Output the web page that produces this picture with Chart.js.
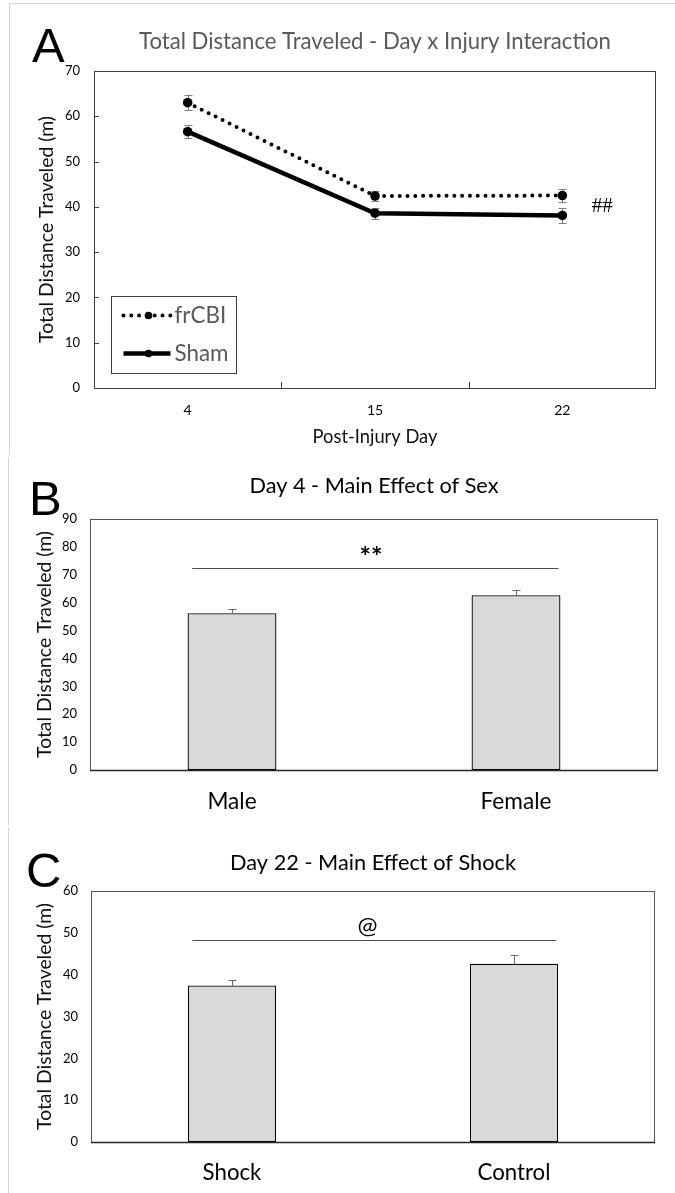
<!DOCTYPE html>
<html><head><meta charset="utf-8">
<script src="https://cdn.jsdelivr.net/npm/chart.js@4.4.1/dist/chart.umd.min.js"></script>
<style>
html,body{margin:0;padding:0;background:#fff;}
body{width:675px;height:1193px;position:relative;overflow:hidden;}
canvas{position:absolute;left:0;}
.letter{position:absolute;font-family:"Liberation Sans",Arial,sans-serif;font-size:49px;line-height:49px;color:#000;}
.rule{position:absolute;background:#d4d4d4;}
</style></head><body>
<div class="rule" style="left:9px;top:3px;width:666px;height:1px"></div>
<div class="rule" style="left:9px;top:3px;width:1px;height:452px"></div>
<div class="rule" style="left:8px;top:457px;width:1px;height:368px"></div>
<div class="rule" style="left:8px;top:828px;width:1px;height:365px"></div>
<canvas id="cA" width="675" height="455" style="top:0"></canvas>
<canvas id="cB" width="675" height="370" style="top:455px"></canvas>
<canvas id="cC" width="675" height="368" style="top:825px"></canvas>
<div class="letter" style="left:32px;top:21px">A</div>
<div class="letter" style="left:29px;top:474px">B</div>
<div class="letter" style="left:26px;top:846px">C</div>
<script>
// ---------- data ----------
// Panel A: Day x Injury interaction
const injuryDays = ['4', '15', '22'];
const frCBIMeans = [63.0, 42.4, 42.5];
const frCBISem = [1.6, 1.1, 1.5];
const shamMeans = [56.6, 38.6, 38.1];
const shamSem = [1.4, 1.25, 1.6];
const interactionMark = '##';
// Panel B: Day 4, main effect of sex
const sexGroups = ['Male', 'Female'];
const sexMeans = [56.2, 62.7];
const sexSem = [1.4, 1.7];
const sexSigLevel = 72.4;
const sexSigMark = '**';
// Panel C: Day 22, main effect of shock
const shockGroups = ['Shock', 'Control'];
const shockMeans = [37.4, 42.6];
const shockSem = [1.3, 2.0];
const shockSigLevel = 48.2;
const shockSigMark = '@';
// axis ranges
const yMaxA = 70, yMaxB = 90, yMaxC = 60, yStep = 10;

// ---------- helpers ----------
const FONT = 'Lato, "Open Sans", sans-serif';
Chart.defaults.font.family = FONT;
const mctx = document.createElement('canvas').getContext('2d');
function fit(text, target, weight = 'normal', family = FONT) {
  mctx.font = weight + ' 100px ' + family;
  return 100 * target / mctx.measureText(text).width;
}
const LH = s => s * 1.2;

function drawInkCentered(ctx, text, cx, cy) {
  const m = ctx.measureText(text);
  ctx.textAlign = 'center';
  ctx.textBaseline = 'alphabetic';
  ctx.fillText(text, cx, cy + (m.actualBoundingBoxAscent - m.actualBoundingBoxDescent) / 2);
}

// ---------- plugins ----------
const framePlugin = {
  id: 'frame',
  afterDraw(chart, args, o) {
    const {ctx, chartArea: a} = chart;
    const L = Math.round(a.left), T = Math.round(a.top), R = Math.round(a.right), B = Math.round(a.bottom);
    ctx.save();
    ctx.strokeStyle = o.color; ctx.lineWidth = 1;
    ctx.strokeRect(L + 0.5, T + 0.5, R - L - 1, B - T);
    if (o.bottomColor) {
      ctx.strokeStyle = o.bottomColor; ctx.lineWidth = o.bottomWidth;
      ctx.beginPath(); ctx.moveTo(L, B + 0.5); ctx.lineTo(R, B + 0.5); ctx.stroke();
    }
    ctx.restore();
  }
};

const innerTicks = {
  id: 'innerTicks',
  afterDraw(chart, args, o) {
    if (!o.enabled) return;
    const {ctx, chartArea: a, scales: {x, y}} = chart;
    ctx.save(); ctx.strokeStyle = o.color; ctx.lineWidth = 1;
    ctx.beginPath();
    y.ticks.forEach(t => {
      if (t.value > y.min && t.value < y.max) {
        const py = Math.round(y.getPixelForValue(t.value)) + 0.5;
        ctx.moveTo(a.left, py); ctx.lineTo(a.left + o.yLen, py);
      }
    });
    for (let i = 0; i < x.ticks.length - 1; i++) {
      const px = Math.round((x.getPixelForValue(i) + x.getPixelForValue(i + 1)) / 2) + 0.5;
      ctx.moveTo(px, a.bottom); ctx.lineTo(px, a.bottom - o.xLen);
    }
    ctx.stroke(); ctx.restore();
  }
};

function drawErr(chart, o) {
  const {ctx, scales: {y}} = chart;
  ctx.save(); ctx.strokeStyle = o.color; ctx.lineWidth = 1;
  chart.data.datasets.forEach((ds, di) => {
    if (!ds.errors) return;
    const meta = chart.getDatasetMeta(di);
    meta.data.forEach((el, i) => {
      const v = ds.data[i], e = ds.errors[i];
      const x = Math.round(el.x) + 0.5;
      const top = Math.round(y.getPixelForValue(v + e)) + 0.5;
      const bot = Math.round(y.getPixelForValue(o.both ? v - e : v)) + 0.5;
      ctx.beginPath();
      ctx.moveTo(x, top); ctx.lineTo(x, bot);
      ctx.moveTo(x - o.cap, top); ctx.lineTo(x + o.cap, top);
      if (o.both) { ctx.moveTo(x - o.cap, bot); ctx.lineTo(x + o.cap, bot); }
      ctx.stroke();
    });
  });
  ctx.restore();
}
const errorBars = {
  id: 'errorBars',
  beforeDatasetsDraw(chart, a, o) { if (o.under) drawErr(chart, o); },
  afterDatasetsDraw(chart, a, o) { if (!o.under) drawErr(chart, o); }
};

const sigBar = {
  id: 'sigBar',
  afterDatasetsDraw(chart, args, o) {
    if (!o.mark) return;
    const {ctx, scales: {x, y}} = chart;
    const step = x.getPixelForValue(1) - x.getPixelForValue(0);
    const x0 = x.getPixelForValue(0) + o.from * step;
    const x1 = x.getPixelForValue(1) + o.to * step;
    const py = Math.round(y.getPixelForValue(o.level)) + 0.5;
    ctx.save();
    ctx.strokeStyle = o.color; ctx.lineWidth = o.width;
    ctx.beginPath(); ctx.moveTo(x0, py); ctx.lineTo(x1, py); ctx.stroke();
    ctx.fillStyle = '#000'; ctx.font = o.font;
    drawInkCentered(ctx, o.mark, (x0 + x1) / 2 + o.dx, y.getPixelForValue(o.markLevel));
    ctx.restore();
  }
};

const endMark = {
  id: 'endMark',
  afterDatasetsDraw(chart, args, o) {
    if (!o.mark) return;
    const {ctx, scales: {x, y}} = chart;
    const last = chart.data.labels.length - 1;
    const vals = chart.data.datasets.map(d => d.data[last]);
    const mean = vals.reduce((s, v) => s + v, 0) / vals.length;
    ctx.save(); ctx.fillStyle = '#000'; ctx.font = o.font;
    drawInkCentered(ctx, o.mark, x.getPixelForValue(last) + o.dx, y.getPixelForValue(mean));
    ctx.restore();
  }
};

const boxLegend = {
  id: 'boxLegend',
  afterDraw(chart, args, o) {
    if (!o.enabled) return;
    const {ctx, chartArea: a} = chart;
    const L = Math.round(a.left + o.dx) + 0.5, Bt = Math.round(a.bottom - o.dy) + 0.5;
    const T = Bt - o.h;
    ctx.save();
    ctx.strokeStyle = o.frameColor; ctx.lineWidth = 1; ctx.strokeRect(L, T, o.w, o.h);
    chart.data.datasets.forEach((ds, i) => {
      const cy = T + o.rows[i];
      ctx.save();
      ctx.strokeStyle = ds.borderColor; ctx.lineWidth = ds.borderWidth;
      ctx.setLineDash(ds.borderDash || []); ctx.lineCap = ds.borderCapStyle || 'butt';
      ctx.beginPath(); ctx.moveTo(L + o.x0, cy); ctx.lineTo(L + o.x1, cy); ctx.stroke();
      ctx.restore();
      ctx.fillStyle = ds.pointBackgroundColor;
      ctx.beginPath(); ctx.arc(L + o.px, cy, o.pr, 0, 2 * Math.PI); ctx.fill();
      ctx.fillStyle = o.color; ctx.font = o.font; ctx.textBaseline = 'middle'; ctx.textAlign = 'left';
      ctx.fillText(ds.label, L + o.tx, cy);
    });
    ctx.restore();
  }
};

const allPlugins = [errorBars, sigBar, endMark, innerTicks, framePlugin, boxLegend];

// ---------- font sizes ----------
const yTitleText = 'Total Distance Traveled (m)';
const yTitleSize = fit(yTitleText, 227);
const titleTextA = 'Total Distance Traveled - Day x Injury Interaction';
const titleSizeA = fit(titleTextA, 472);
const xTitleSizeA = fit('Post-Injury Day', 125);
const titleTextB = 'Day 4 - Main Effect of Sex';
const titleSizeB = fit(titleTextB, 249);
const titleTextC = 'Day 22 - Main Effect of Shock';
const titleSizeC = fit(titleTextC, 286);
const catSizeB = fit('Female', 71);
const catSizeC = fit('Control', 73);
const legendSize = fit('Sham', 54);
const starSize = fit(sexSigMark, 23, 'bold');
const atSize = fit(shockSigMark, 20);

function titleOpts(text, size, color, centerY, areaTop) {
  const lh = LH(size);
  const top = centerY - lh / 2;
  return {display: true, text, color, fullSize: false,
    font: {size, weight: 'normal'}, padding: {top, bottom: areaTop - top - lh}};
}
function yScale(max, width, titleX, padding) {
  return {
    min: 0, max,
    ticks: {stepSize: yStep, font: {size: 13}, color: '#000', padding},
    grid: {display: false, drawTicks: false}, border: {display: false},
    title: {display: true, text: yTitleText, color: '#111', font: {size: yTitleSize},
      padding: {top: titleX - LH(yTitleSize) / 2, bottom: 0}},
    afterFit: s => { s.width = width; }
  };
}

// ---------- Panel A ----------
new Chart(document.getElementById('cA'), {
  type: 'line',
  data: {
    labels: injuryDays,
    datasets: [
      {label: 'frCBI', data: frCBIMeans, errors: frCBISem, borderColor: '#000', backgroundColor: '#000',
       borderWidth: 4, borderDash: [0, 7.8], borderCapStyle: 'round', tension: 0,
       pointRadius: 4.8, pointBackgroundColor: '#000', pointBorderWidth: 0},
      {label: 'Sham', data: shamMeans, errors: shamSem, borderColor: '#000', backgroundColor: '#000',
       borderWidth: 4.5, tension: 0,
       pointRadius: 4.8, pointBackgroundColor: '#000', pointBorderWidth: 0}
    ]
  },
  options: {
    responsive: false, animation: false,
    layout: {padding: {left: 0, right: 19, top: 0, bottom: 0}},
    plugins: {
      legend: {display: false}, tooltip: {enabled: false},
      title: titleOpts(titleTextA, titleSizeA, '#595959', 42, 71),
      errorBars: {under: true, both: true, cap: 4, color: '#7f7f7f'},
      endMark: {mark: interactionMark, dx: 40, font: '21px "Liberation Serif", serif'},
      innerTicks: {enabled: true, color: '#404040', yLen: 5, xLen: 6},
      frame: {color: '#404040'},
      boxLegend: {enabled: true, dx: 17, dy: 15, w: 125, h: 77, rows: [19, 57], x0: 12, x1: 59, px: 37, pr: 3.8,
        tx: 63, color: '#595959', frameColor: '#404040', font: legendSize + 'px ' + FONT}
    },
    scales: {
      x: {
        offset: true,
        grid: {display: false, drawTicks: false}, border: {display: false},
        ticks: {font: {size: 14}, color: '#000', padding: 22 - LH(14) / 2},
        title: {display: true, text: 'Post-Injury Day', color: '#111', font: {size: xTitleSizeA},
          padding: {top: 0, bottom: 18 - LH(xTitleSizeA) / 2}},
        afterFit: s => { s.height = 67; }
      },
      y: yScale(yMaxA, 94, 47, 14)
    }
  },
  plugins: allPlugins
});

// ---------- Bar panels ----------
function barPanel(id, cats, means, sems, max, cfg) {
  new Chart(document.getElementById(id), {
    type: 'bar',
    data: {
      labels: cats,
      datasets: [{data: means, errors: sems, backgroundColor: '#d9d9d9', borderColor: '#000',
        borderWidth: 1.3, borderSkipped: false, categoryPercentage: 1, barPercentage: 0.313}]
    },
    options: {
      responsive: false, animation: false,
      layout: {padding: {left: 0, right: cfg.right, top: 0, bottom: 0}},
      plugins: {
        legend: {display: false}, tooltip: {enabled: false},
        title: titleOpts(cfg.title, cfg.titleSize, '#000', cfg.titleY, cfg.top),
        errorBars: {under: false, both: false, cap: 4, color: '#6a6a6a'},
        sigBar: {mark: cfg.mark, level: cfg.level, markLevel: cfg.markLevel, from: -0.14, to: 0.15, dx: cfg.markDx,
          color: '#4d4d4d', width: 1.2, font: cfg.markFont},
        frame: {color: '#555555', bottomColor: '#262626', bottomWidth: 1.5},
        innerTicks: {enabled: false}, boxLegend: {enabled: false}, endMark: {mark: ''}
      },
      scales: {
        x: {
          grid: {display: false, drawTicks: false}, border: {display: false},
          ticks: {font: {size: cfg.catSize}, color: '#000', padding: cfg.catY - LH(cfg.catSize) / 2},
          afterFit: s => { s.height = cfg.xh; }
        },
        y: yScale(max, cfg.left, 45, 13)
      }
    },
    plugins: allPlugins
  });
}

barPanel('cB', sexGroups, sexMeans, sexSem, yMaxB, {
  right: 17, left: 90, top: 64, xh: 55, titleY: 31, title: titleTextB, titleSize: titleSizeB,
  catSize: catSizeB, catY: 31.7, mark: sexSigMark, level: sexSigLevel, markLevel: 78.4, markDx: -4.5,
  markFont: 'bold ' + starSize + 'px ' + FONT
});
barPanel('cC', shockGroups, shockMeans, shockSem, yMaxC, {
  right: 20, left: 91, top: 66, xh: 51, titleY: 38, title: titleTextC, titleSize: titleSizeC,
  catSize: catSizeC, catY: 31, mark: shockSigMark, level: shockSigLevel, markLevel: 51.4, markDx: -7,
  markFont: atSize + 'px ' + FONT
});
</script>
</body></html>
